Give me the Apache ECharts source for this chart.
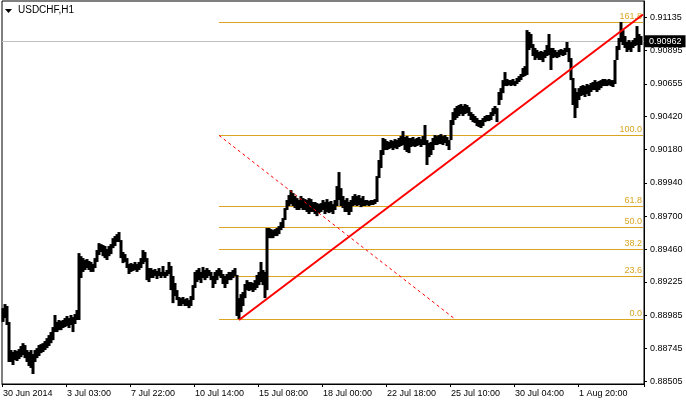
<!DOCTYPE html>
<html>
<head>
<meta charset="utf-8">
<script src="https://cdn.jsdelivr.net/npm/echarts@6/dist/echarts.min.js"></script>
<style>html,body{margin:0;padding:0;background:#fff}#c{width:686px;height:401px}</style>
</head>
<body>
<div id="c"></div>
<script>
// USDCHF H1 – each entry is the high/low range of a 2-hour slice
const barHigh = [
0.89036,0.89065,0.89051,0.88936,0.88733,0.88719,0.88733,0.88726,0.88740,0.88762,
0.88783,0.88769,0.88733,0.88719,0.88733,0.88704,0.88733,0.88747,0.88769,0.88776,
0.88783,0.88798,0.88819,0.88841,0.88863,0.88899,0.88986,0.88936,0.88950,0.88943,
0.88950,0.88964,0.88979,0.88964,0.88986,0.88971,0.88993,0.89022,0.89433,0.89411,
0.89397,0.89383,0.89390,0.89376,0.89369,0.89354,0.89397,0.89455,0.89505,0.89498,
0.89491,0.89484,0.89462,0.89484,0.89498,0.89541,0.89556,0.89570,0.89585,0.89527,
0.89441,0.89426,0.89397,0.89354,0.89361,0.89354,0.89369,0.89354,0.89369,0.89397,
0.89455,0.89441,0.89397,0.89325,0.89325,0.89311,0.89318,0.89304,0.89325,0.89297,
0.89340,0.89297,0.89311,0.89369,0.89340,0.89268,0.89217,0.89166,0.89116,0.89108,
0.89116,0.89101,0.89108,0.89094,0.89123,0.89202,0.89297,0.89311,0.89325,0.89297,
0.89333,0.89311,0.89325,0.89311,0.89297,0.89268,0.89297,0.89311,0.89325,0.89311,
0.89282,0.89268,0.89282,0.89297,0.89297,0.89311,0.89325,0.89275,0.89108,0.89137,
0.89152,0.89210,0.89238,0.89224,0.89224,0.89217,0.89238,0.89275,0.89297,0.89369,
0.89311,0.89297,0.89614,0.89614,0.89606,0.89599,0.89606,0.89614,0.89628,0.89657,
0.89686,0.89758,0.89816,0.89852,0.89888,0.89866,0.89845,0.89830,0.89816,0.89845,
0.89830,0.89823,0.89816,0.89830,0.89823,0.89802,0.89802,0.89794,0.89787,0.89794,
0.89816,0.89802,0.89823,0.89802,0.89809,0.89787,0.89816,0.89917,0.90018,0.89902,
0.89845,0.89816,0.89830,0.89802,0.89816,0.89845,0.89859,0.89845,0.89852,0.89830,
0.89845,0.89816,0.89816,0.89809,0.89816,0.89816,0.89823,0.89989,0.90105,0.90177,
0.90264,0.90256,0.90242,0.90235,0.90249,0.90242,0.90256,0.90249,0.90264,0.90278,
0.90314,0.90271,0.90278,0.90264,0.90264,0.90271,0.90256,0.90264,0.90271,0.90256,
0.90278,0.90358,0.90249,0.90228,0.90235,0.90264,0.90285,0.90278,0.90285,0.90292,
0.90278,0.90285,0.90271,0.90249,0.90394,0.90451,0.90480,0.90495,0.90502,0.90509,
0.90495,0.90509,0.90502,0.90487,0.90451,0.90437,0.90423,0.90408,0.90394,0.90394,
0.90408,0.90423,0.90430,0.90430,0.90451,0.90480,0.90495,0.90480,0.90596,0.90624,
0.90682,0.90740,0.90690,0.90682,0.90682,0.90690,0.90675,0.90697,0.90711,0.90726,
0.90769,0.90783,0.91043,0.91029,0.91015,0.90942,0.90914,0.90899,0.90885,0.90892,
0.90885,0.90899,0.90935,0.91015,0.90914,0.90914,0.90899,0.90885,0.90899,0.90906,
0.90899,0.90914,0.90957,0.90914,0.90841,0.90697,0.90624,0.90596,0.90624,0.90639,
0.90646,0.90639,0.90654,0.90646,0.90661,0.90668,0.90682,0.90668,0.90675,0.90682,
0.90690,0.90690,0.90682,0.90690,0.90682,0.90682,0.90827,0.90928,0.90986,0.91101,
0.91043,0.91000,0.90957,0.90971,0.90957,0.90971,0.90986,0.91072,0.91015,0.91000
];
const barLow = [
0.88936,0.88964,0.88914,0.88647,0.88647,0.88625,0.88661,0.88654,0.88668,0.88682,
0.88697,0.88675,0.88647,0.88618,0.88604,0.88560,0.88647,0.88675,0.88690,0.88711,
0.88719,0.88733,0.88747,0.88762,0.88783,0.88805,0.88863,0.88863,0.88877,0.88877,
0.88892,0.88899,0.88907,0.88892,0.88914,0.88863,0.88921,0.88950,0.88950,0.89253,
0.89297,0.89311,0.89325,0.89311,0.89297,0.89297,0.89325,0.89369,0.89419,0.89441,
0.89411,0.89397,0.89383,0.89411,0.89426,0.89469,0.89484,0.89513,0.89513,0.89397,
0.89361,0.89369,0.89325,0.89282,0.89297,0.89304,0.89311,0.89297,0.89311,0.89325,
0.89354,0.89369,0.89238,0.89224,0.89253,0.89253,0.89268,0.89246,0.89268,0.89253,
0.89268,0.89253,0.89268,0.89282,0.89166,0.89072,0.89123,0.89094,0.89051,0.89051,
0.89065,0.89051,0.89051,0.89036,0.89051,0.89094,0.89181,0.89224,0.89238,0.89217,
0.89253,0.89238,0.89253,0.89268,0.89238,0.89181,0.89210,0.89238,0.89268,0.89253,
0.89210,0.89181,0.89210,0.89238,0.89238,0.89253,0.89268,0.88979,0.88957,0.89007,
0.89051,0.89108,0.89166,0.89159,0.89166,0.89152,0.89166,0.89181,0.89202,0.89224,
0.89202,0.89108,0.89166,0.89541,0.89541,0.89541,0.89556,0.89556,0.89570,0.89599,
0.89614,0.89672,0.89744,0.89773,0.89787,0.89773,0.89758,0.89744,0.89744,0.89758,
0.89744,0.89744,0.89730,0.89715,0.89730,0.89730,0.89715,0.89700,0.89722,0.89730,
0.89744,0.89715,0.89730,0.89722,0.89730,0.89715,0.89744,0.89773,0.89816,0.89773,
0.89758,0.89730,0.89730,0.89708,0.89730,0.89773,0.89780,0.89773,0.89780,0.89765,
0.89773,0.89773,0.89780,0.89773,0.89780,0.89780,0.89787,0.89802,0.89975,0.90047,
0.90141,0.90177,0.90177,0.90184,0.90191,0.90177,0.90191,0.90184,0.90199,0.90206,
0.90213,0.90177,0.90163,0.90155,0.90199,0.90206,0.90199,0.90206,0.90213,0.90199,
0.90213,0.90213,0.90069,0.90126,0.90141,0.90177,0.90213,0.90213,0.90220,0.90220,
0.90213,0.90228,0.90206,0.90177,0.90249,0.90358,0.90394,0.90408,0.90423,0.90437,
0.90423,0.90437,0.90444,0.90423,0.90394,0.90379,0.90372,0.90350,0.90343,0.90336,
0.90350,0.90379,0.90386,0.90386,0.90394,0.90423,0.90437,0.90379,0.90502,0.90538,
0.90588,0.90639,0.90639,0.90646,0.90639,0.90646,0.90639,0.90654,0.90668,0.90682,
0.90704,0.90711,0.90719,0.90899,0.90914,0.90856,0.90827,0.90841,0.90827,0.90827,
0.90812,0.90841,0.90856,0.90863,0.90755,0.90841,0.90848,0.90841,0.90848,0.90863,
0.90856,0.90863,0.90885,0.90812,0.90682,0.90502,0.90408,0.90480,0.90538,0.90567,
0.90574,0.90560,0.90581,0.90567,0.90596,0.90610,0.90610,0.90596,0.90610,0.90624,
0.90639,0.90639,0.90639,0.90646,0.90639,0.90632,0.90654,0.90827,0.90899,0.90957,
0.90935,0.90914,0.90885,0.90899,0.90885,0.90914,0.90928,0.90935,0.90885,0.90935
];
const xTickLabels = ['30 Jun 2014','3 Jul 03:00','7 Jul 22:00','10 Jul 14:00','15 Jul 08:00','18 Jul 00:00','22 Jul 18:00','25 Jul 10:00','30 Jul 04:00','1 Aug 20:00'];
const barsPerTick = 32;
const slotCount = 321;
const yTickValues = [0.88505,0.88745,0.88985,0.89225,0.89460,0.89700,0.89940,0.90180,0.90420,0.90655,0.90895,0.91135];
const fibNames = ['0.0','23.6','38.2','50.0','61.8','100.0','161.8'];
const fibPrices = [0.88957,0.89267,0.89460,0.89619,0.89773,0.90283,0.91101];
const fibStartIndex = 108;
const fibDiagonal = [[108,0.90283],[226,0.88957]];
const trendLine = [[118,0.88950],[320,0.91155]];
const bidPrice = 0.90962;
const title = 'USDCHF,H1';

const categories = [];
for (let i = 0; i < slotCount; i++) categories.push(String(i));
const candles = barLow.map((l, i) => [l, barHigh[i], l, barHigh[i]]);
const tickFn = (idx) => idx % barsPerTick === 0 && idx / barsPerTick < xTickLabels.length;
const font = 'Liberation Sans';
const gold = '#DAA520';

const chart = echarts.init(document.getElementById('c'), null, {renderer: 'canvas'});
chart.setOption({
  animation: false,
  backgroundColor: '#fff',
  grid: {left: 2, right: 42, top: 1, bottom: 17, show: true, borderColor: '#000', borderWidth: 1, backgroundColor: '#fff'},
  graphic: [
    {type: 'polygon', shape: {points: [[5,9],[12,9],[8.5,13]]}, style: {fill: '#000'}, z: 100},
    {type: 'text', left: 18, top: 5, style: {text: title, fill: '#000', font: '10px "Liberation Sans"'}, z: 100}
  ],
  xAxis: {
    type: 'category', data: categories, boundaryGap: true,
    axisLine: {show: true, lineStyle: {color: '#000', width: 1}},
    axisTick: {show: true, interval: tickFn, length: 3, lineStyle: {color: '#000'}},
    axisLabel: {interval: tickFn, formatter: (v, idx) => xTickLabels[Math.round(Number(v) / barsPerTick)] || '',
      align: 'left', margin: 5, color: '#000', fontSize: 9, fontFamily: font},
    splitLine: {show: false}
  },
  yAxis: {
    type: 'value', position: 'right', min: 0.88488, max: 0.91253,
    axisLine: {show: true, lineStyle: {color: '#000', width: 1}},
    axisTick: {show: true, customValues: yTickValues, length: 3, lineStyle: {color: '#000'}},
    axisLabel: {customValues: yTickValues, formatter: (v) => Number(v).toFixed(5), margin: 6, color: '#000', fontSize: 9, fontFamily: font},
    splitLine: {show: false}
  },
  series: [
    {
      type: 'line', name: 'bid', data: [], z: 1,
      markLine: {
        silent: true, symbol: ['none','none'], z: 1,
        lineStyle: {color: '#C0C0C0', width: 1, type: 'solid'},
        label: {show: true, position: 'end', distance: 1, formatter: () => bidPrice.toFixed(5),
          backgroundColor: '#000', color: '#fff', padding: [2,4,1,4], fontSize: 9, fontFamily: font},
        data: [[{coord: [0, bidPrice], x: 2}, {coord: [slotCount - 1, bidPrice], x: 644}]]
      }
    },
    {
      type: 'line', name: 'fibo', data: [], z: 1,
      markLine: {
        silent: true, symbol: ['none','none'], z: 1,
        lineStyle: {color: gold, width: 1, type: 'solid'},
        label: {show: true, position: 'insideEndTop', distance: 1, color: gold, fontSize: 9, fontFamily: font},
        data: fibPrices.map((p, k) => [
          {coord: [fibStartIndex, p], label: {formatter: fibNames[k]}},
          {coord: [slotCount - 1, p]}
        ])
      }
    },
    {
      type: 'candlestick', name: 'USDCHF', data: candles, barWidth: 3, z: 3,
      itemStyle: {color: '#000', color0: '#000', borderColor: '#000', borderColor0: '#000', borderWidth: 0}
    },
    {
      type: 'line', name: 'fiboLine', data: fibDiagonal, showSymbol: false, z: 4,
      lineStyle: {color: '#FF0000', width: 1, type: [3,3]}
    },
    {
      type: 'line', name: 'trend', data: trendLine, showSymbol: false, z: 5, clip: true,
      lineStyle: {color: '#FF0000', width: 2}
    }
  ]
});
</script>
</body>
</html>
